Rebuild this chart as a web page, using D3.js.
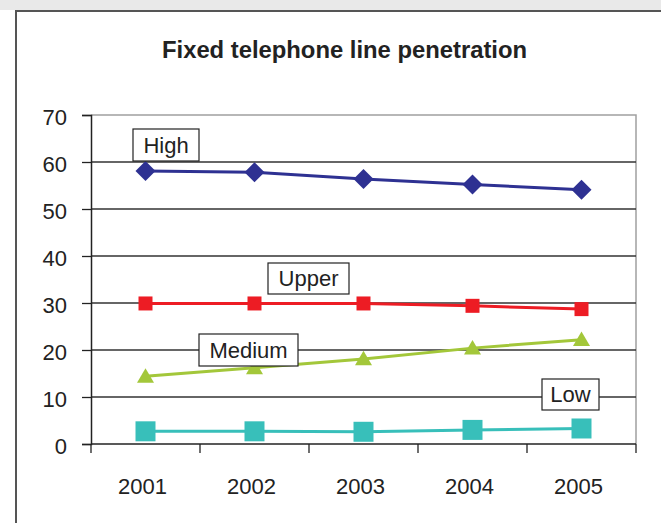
<!DOCTYPE html>
<html>
<head>
<meta charset="utf-8">
<script src="https://cdn.jsdelivr.net/npm/d3@7"></script>
<style>
html, body { margin: 0; padding: 0; background: #fff; }
svg { display: block; font-family: "Liberation Sans", Arial, sans-serif; }
</style>
</head>
<body>
<script>
const years = ["2001", "2002", "2003", "2004", "2005"];
const high = [58.1, 57.8, 56.4, 55.2, 54.1];
const upper = [29.9, 29.9, 29.9, 29.4, 28.7];
const medium = [14.4, 16.2, 18.1, 20.4, 22.2];
const low = [2.7, 2.7, 2.6, 3.0, 3.3];
const yTicks = [0, 10, 20, 30, 40, 50, 60, 70];
const titleText = "Fixed telephone line penetration";

const series = [
  { name: "High", values: high, color: "#2E3192", marker: "diamond", size: 20,
    label: { x: 133, y: 129, w: 66, h: 32 } },
  { name: "Upper", values: upper, color: "#ED1C24", marker: "square", size: 14,
    label: { x: 268, y: 263, w: 81, h: 31 } },
  { name: "Medium", values: medium, color: "#A3C73A", marker: "triangle", size: 17,
    label: { x: 199, y: 334, w: 99, h: 32 } },
  { name: "Low", values: low, color: "#38BFBA", marker: "square", size: 20,
    label: { x: 542, y: 379, w: 57, h: 31 } }
];

const W = 661, H = 523;
const svg = d3.select("body").append("svg").attr("width", W).attr("height", H);

// page background band and outer frame
svg.append("rect").attr("x", 0).attr("y", 0).attr("width", W).attr("height", 10).attr("fill", "#e9e9e9");
svg.append("path").attr("d", `M16,${H} L16,11 L${W},11`).attr("fill", "none").attr("stroke", "#555").attr("stroke-width", 2);

const pLeft = 91, pRight = 636, pTop = 115, pBottom = 444;
const x = d3.scaleBand().domain(years).range([pLeft, pRight]);
const y = d3.scaleLinear().domain([0, 70]).range([pBottom, pTop]);

svg.append("text").attr("x", 344.5).attr("y", 58).attr("text-anchor", "middle")
  .attr("font-size", 23).attr("font-weight", "bold").attr("fill", "#222")
  .attr("textLength", 365).attr("lengthAdjust", "spacingAndGlyphs")
  .text(titleText);

// plot border (top & right gray)
svg.append("path").attr("d", `M${pLeft},${pTop} L${pRight},${pTop} L${pRight},${pBottom}`)
  .attr("fill", "none").attr("stroke", "#a0a0a0").attr("stroke-width", 1.5);

// gridlines
svg.append("g").selectAll("line").data(yTicks.filter(d => d > 0 && d < 70)).join("line")
  .attr("x1", pLeft).attr("x2", pRight).attr("y1", d => y(d)).attr("y2", d => y(d))
  .attr("stroke", "#333").attr("stroke-width", 1.3);

// y axis
const yAxis = d3.axisLeft(y).tickValues(yTicks).tickSize(9).tickPadding(15).tickFormat(d3.format("d"));
const gy = svg.append("g").attr("transform", `translate(${pLeft},0)`).call(yAxis);
gy.select(".domain").attr("stroke", "#222").attr("stroke-width", 1.5);
gy.selectAll(".tick line").attr("stroke", "#222").attr("stroke-width", 1.3);
gy.selectAll(".tick text").attr("font-size", 22).attr("fill", "#222").attr("font-family", "Liberation Sans, Arial, sans-serif").attr("dy", "0.42em");

// x axis with ticks at band boundaries
const gx = svg.append("g").attr("transform", `translate(0,${pBottom})`);
gx.append("line").attr("x1", pLeft).attr("x2", pRight).attr("y1", 0).attr("y2", 0).attr("stroke", "#222").attr("stroke-width", 1.5);
const boundaries = years.map(d => x(d)).concat([x(years[years.length - 1]) + x.bandwidth()]);
gx.selectAll("line.tk").data(boundaries).join("line").attr("class", "tk")
  .attr("x1", d => d).attr("x2", d => d).attr("y1", 0).attr("y2", 9)
  .attr("stroke", "#222").attr("stroke-width", 1.3);
gx.selectAll("text").data(years).join("text")
  .attr("x", d => x(d) + x.bandwidth() / 2 - 3).attr("y", 50)
  .attr("text-anchor", "middle").attr("font-size", 22).attr("fill", "#222")
  .text(d => d);

const cx = (d, i) => x(years[i]) + x.bandwidth() / 2;
const line = d3.line().x((d, i) => cx(d, i)).y(d => y(d));

series.forEach(s => {
  const g = svg.append("g");
  g.append("path").datum(s.values).attr("d", line).attr("fill", "none")
    .attr("stroke", s.color).attr("stroke-width", 3);
  const r = s.size / 2;
  g.selectAll("path.m").data(s.values).join("path").attr("class", "m")
    .attr("fill", s.color)
    .attr("transform", (d, i) => `translate(${cx(d, i)},${y(d)})`)
    .attr("d", () => {
      if (s.marker === "diamond") return `M0,${-r} L${r},0 L0,${r} L${-r},0 Z`;
      if (s.marker === "triangle") return `M0,${-r * 0.95} L${r},${r * 0.75} L${-r},${r * 0.75} Z`;
      return `M${-r},${-r} L${r},${-r} L${r},${r} L${-r},${r} Z`;
    });
});

// labels
series.forEach(s => {
  const L = s.label;
  svg.append("rect").attr("x", L.x).attr("y", L.y).attr("width", L.w).attr("height", L.h)
    .attr("fill", "#fff").attr("stroke", "#222").attr("stroke-width", 1.2);
  svg.append("text").attr("x", L.x + L.w / 2).attr("y", L.y + L.h / 2).attr("dy", "0.36em")
    .attr("text-anchor", "middle").attr("font-size", 22).attr("fill", "#222").text(s.name);
});
</script>
</body>
</html>
